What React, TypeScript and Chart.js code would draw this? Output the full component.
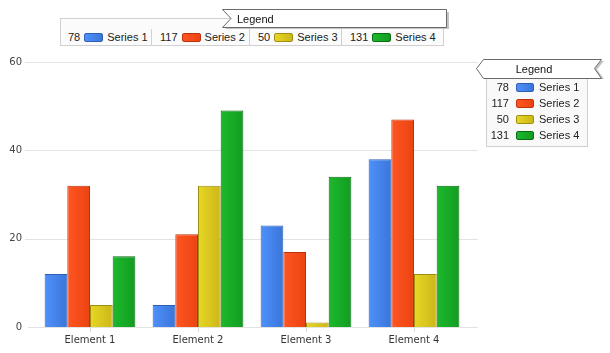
import React, { useEffect, useRef } from "react";
import { Chart, registerables } from "chart.js";

Chart.register(...registerables);

const categories = ["Element 1", "Element 2", "Element 3", "Element 4"];
const seriesNames = ["Series 1", "Series 2", "Series 3", "Series 4"];
const series1 = [12, 5, 23, 38];
const series2 = [32, 21, 17, 47];
const series3 = [5, 32, 1, 12];
const series4 = [16, 49, 34, 32];
const seriesValues = [series1, series2, series3, series4];
const yTicks = [0, 20, 40, 60];

const lightColors = ["#4f90fa", "#ff5522", "#e8d626", "#1db82d"];
const darkColors = ["#3a76da", "#ea4412", "#cbb718", "#129d21"];
const borderColors = ["#2f5fb5", "#bf300c", "#9e8f12", "#0b6b15"];

const CAT_PCT = 0.84;

const totals = seriesValues.map((s) => s.reduce((a, b) => a + b, 0));

const gridPlugin = {
  id: "extGrid",
  beforeDatasetsDraw(chart: any) {
    const { ctx, chartArea } = chart;
    const ys = chart.scales.y;
    ctx.save();
    ctx.strokeStyle = "#e3e3e3";
    ctx.lineWidth = 1;
    yTicks.forEach((v) => {
      const y = Math.round(ys.getPixelForValue(v)) + 0.5;
      ctx.beginPath();
      ctx.moveTo(chartArea.left - (v === 0 ? 8 : 11), y);
      ctx.lineTo(chartArea.right + 10, y);
      ctx.stroke();
    });
    ctx.restore();
  },
};

function makeBg(di: number) {
  return (c: any) => {
    const chart = c.chart;
    const xs = chart.scales && chart.scales.x;
    if (!xs || !chart.chartArea || c.dataIndex === undefined) return lightColors[di];
    const catW = xs.width / categories.length;
    const gw = catW * CAT_PCT;
    const bw = gw / seriesNames.length;
    const center = xs.getPixelForValue(c.dataIndex);
    const left = center - gw / 2 + di * bw;
    const g = chart.ctx.createLinearGradient(left, 0, left + bw, 0);
    g.addColorStop(0, lightColors[di]);
    g.addColorStop(1, darkColors[di]);
    return g;
  };
}

const legendFont = "'Liberation Sans', Arial, sans-serif";

function Swatch({ i, w, h }: { i: number; w: number; h: number }) {
  return (
    <span
      style={{
        display: "inline-block",
        width: w,
        height: h,
        boxSizing: "border-box",
        border: `1px solid ${borderColors[i]}`,
        borderRadius: 2,
        background: `linear-gradient(to right, ${lightColors[i]}, ${darkColors[i]})`,
      }}
    />
  );
}

export default function App() {
  const ref = useRef<HTMLCanvasElement>(null);

  useEffect(() => {
    if (!ref.current) return;
    const chart = new Chart(ref.current, {
      type: "bar",
      data: {
        labels: categories,
        datasets: seriesValues.map((vals, di) => ({
          label: seriesNames[di],
          data: vals,
          backgroundColor: makeBg(di),
          borderColor: borderColors[di],
          borderWidth: 1,
          borderSkipped: "bottom",
          categoryPercentage: CAT_PCT,
          barPercentage: 1,
        })),
      },
      options: {
        animation: false,
        responsive: false,
        maintainAspectRatio: false,
        layout: { padding: { left: 0, top: 62, right: 142, bottom: 0 } },
        plugins: { legend: { display: false }, tooltip: { enabled: false } },
        scales: {
          x: {
            afterFit: (s: any) => {
              s.height = 26;
            },
            grid: {
              display: true,
              drawOnChartArea: false,
              drawTicks: true,
              tickLength: 5,
              offset: false,
              color: "#d8d8d8",
            },
            border: { display: false },
            ticks: {
              padding: 2,
              color: "#333",
              font: { family: "'DejaVu Sans'", size: 10 },
            },
          },
          y: {
            min: 0,
            max: 60,
            afterFit: (s: any) => {
              s.width = 36;
            },
            afterBuildTicks: (s: any) => {
              s.ticks = yTicks.map((v) => ({ value: v }));
            },
            grid: { display: false, drawTicks: false },
            border: { display: false },
            ticks: {
              padding: 14,
              color: "#444",
              font: { family: "'DejaVu Sans'", size: 10 },
            },
          },
        },
      },
      plugins: [gridPlugin],
    } as any);
    return () => chart.destroy();
  }, []);

  const topCells = [
    { left: 60, width: 92 },
    { left: 152, width: 98 },
    { left: 250, width: 92 },
    { left: 342, width: 102 },
  ];

  return (
    <div
      style={{
        position: "absolute",
        left: 0,
        top: 0,
        width: 610,
        height: 353,
        background: "#fff",
        fontFamily: legendFont,
        fontSize: 11,
        color: "#222",
      }}
    >
      <canvas ref={ref} width={610} height={353} style={{ position: "absolute", left: 0, top: 0 }} />

      {/* Top legend */}
      <div
        style={{
          position: "absolute",
          left: 60,
          top: 18,
          width: 384,
          height: 28,
          boxSizing: "border-box",
          border: "1px solid #d0d0d0",
          background: "#fbfbfb",
        }}
      />
      {topCells.map((c, i) => (
        <div
          key={i}
          style={{
            position: "absolute",
            left: c.left,
            top: 29,
            width: c.width,
            height: 16,
            boxSizing: "border-box",
            borderRight: i < 3 ? "1px solid #d0d0d0" : "none",
            display: "flex",
            alignItems: "center",
            paddingLeft: 8,
            whiteSpace: "nowrap",
          }}
        >
          <span>{totals[i]}</span>
          <span style={{ width: 4 }} />
          <Swatch i={i} w={19} h={9} />
          <span style={{ width: 4 }} />
          <span>{seriesNames[i]}</span>
        </div>
      ))}
      <svg
        style={{ position: "absolute", left: 221, top: 8, overflow: "visible" }}
        width={232}
        height={24}
      >
        <polygon points="4,4 228,4 228,21 4,21 12,12.5" fill="#c4c4c4" />
        <polygon points="1.5,1.5 225.5,1.5 225.5,19.5 1.5,19.5 10,10.5" fill="#fff" stroke="#6a6a6a" strokeWidth={1} />
      </svg>
      <div style={{ position: "absolute", left: 237, top: 12, lineHeight: "14px", color: "#111" }}>Legend</div>

      {/* Right legend */}
      <div
        style={{
          position: "absolute",
          left: 486,
          top: 77,
          width: 102,
          height: 70,
          boxSizing: "border-box",
          border: "1px solid #d0d0d0",
          background: "#f9f9f9",
        }}
      />
      <svg
        style={{ position: "absolute", left: 474, top: 57, overflow: "visible" }}
        width={132}
        height={26}
      >
        <polygon points="5,12.5 12,4 130,4 123,12.5 130,22 12,22" fill="#c4c4c4" />
        <polygon points="2.5,11.5 9.5,2.5 127.5,2.5 120.5,11.5 127.5,21.5 9.5,21.5" fill="#fff" stroke="#6a6a6a" strokeWidth={1} />
      </svg>
      <div
        style={{
          position: "absolute",
          left: 484,
          top: 62,
          width: 100,
          textAlign: "center",
          lineHeight: "14px",
          color: "#111",
        }}
      >
        Legend
      </div>
      {seriesNames.map((name, i) => (
        <div
          key={name}
          style={{
            position: "absolute",
            left: 486,
            top: 80 + i * 16,
            height: 14,
            display: "flex",
            alignItems: "center",
            whiteSpace: "nowrap",
          }}
        >
          <span style={{ width: 23, textAlign: "right" }}>{totals[i]}</span>
          <span style={{ width: 7 }} />
          <Swatch i={i} w={18} h={9} />
          <span style={{ width: 5 }} />
          <span>{name}</span>
        </div>
      ))}
    </div>
  );
}
